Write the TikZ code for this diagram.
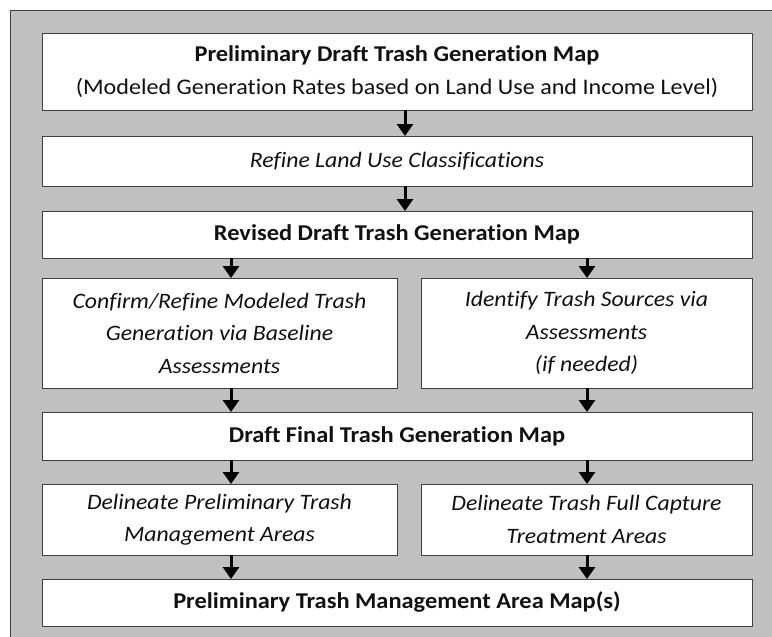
\documentclass[tikz,border=0pt]{standalone}
\usepackage{fontspec}
\setmainfont{Carlito}[Ligatures=NoCommon, FakeStretch=1.08]
\usetikzlibrary{arrows.meta}
\definecolor{panel}{HTML}{C0C0C0}
\definecolor{edge}{HTML}{404040}
\definecolor{ink}{HTML}{111111}
\newcommand{\bfsz}{\fontsize{22.6}{33}\selectfont\bfseries}
\newcommand{\rmsz}{\fontsize{22.3}{33}\selectfont}
\newcommand{\itsz}{\fontsize{22}{32.5}\selectfont\itshape}
\tikzset{
  box/.style={draw=edge, line width=1pt, fill=white, inner sep=0pt, outer sep=0pt,
    align=center, text=ink},
  wide/.style={box, minimum width=710pt},
  arr/.style={line width=3pt, -{Triangle[width=16pt,length=12pt]}, black},
}
\begin{document}
\begin{tikzpicture}[x=1pt,y=-1pt]
\useasboundingbox (0,0) rectangle (772,637);
% grey backdrop with its frame on the left and top
\fill[panel] (10,10) rectangle (772,637);
\draw[edge, line width=1pt] (10,637) -- (10,10) -- (772,10);

% arrow columns
\coordinate (colM) at (405,0);
\coordinate (colL) at (231,0);
\coordinate (colR) at (587,0);

\node[wide, minimum height=77pt, font=\rmsz] (b1) at (397,71.5)
  {{\bfsz Preliminary Draft Trash Generation Map}\\
   (Modeled Generation Rates based on Land Use and Income Level)};
\node[wide, minimum height=50pt, font=\itsz] (b2) at (397,161) {Refine Land Use Classifications};
\node[wide, minimum height=47pt, font=\bfsz] (b3) at (397,234.5) {Revised Draft Trash Generation Map};
\node[box, minimum width=355pt, minimum height=110pt, font=\itsz] (b4l) at (219.5,333)
  {Confirm/Refine Modeled Trash\\ Generation via Baseline\\ Assessments};
\node[box, minimum width=331pt, minimum height=110pt, font=\itsz] (b4r) at (586.5,333)
  {Identify Trash Sources via\\ Assessments\\ (if needed)};
\node[wide, minimum height=48pt, font=\bfsz] (b5) at (397,436) {Draft Final Trash Generation Map};
\node[box, minimum width=355pt, minimum height=71pt, font=\itsz] (b6l) at (219.5,519.5)
  {Delineate Preliminary Trash\\ Management Areas};
\node[box, minimum width=331pt, minimum height=71pt, font=\itsz] (b6r) at (586.5,519.5)
  {Delineate Trash Full Capture\\ Treatment Areas};
\node[wide, minimum height=47pt, font=\bfsz] (b7) at (397,602.5) {Preliminary Trash Management Area Map(s)};

\draw[arr] (b1.south -| colM) -- (b2.north -| colM);
\draw[arr] (b2.south -| colM) -- (b3.north -| colM);
\draw[arr] (b3.south -| colL) -- (b4l.north -| colL);
\draw[arr] (b3.south -| colR) -- (b4r.north -| colR);
\draw[arr] (b4l.south -| colL) -- (b5.north -| colL);
\draw[arr] (b4r.south -| colR) -- (b5.north -| colR);
\draw[arr] (b5.south -| colL) -- (b6l.north -| colL);
\draw[arr] (b5.south -| colR) -- (b6r.north -| colR);
\draw[arr] (b6l.south -| colL) -- (b7.north -| colL);
\draw[arr] (b6r.south -| colR) -- (b7.north -| colR);
\end{tikzpicture}
\end{document}
